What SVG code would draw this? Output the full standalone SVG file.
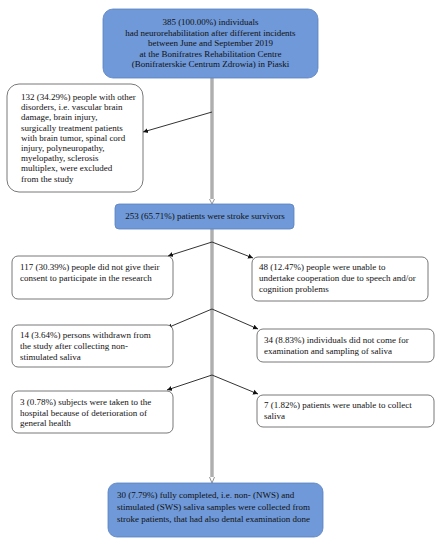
<svg xmlns="http://www.w3.org/2000/svg" width="446" height="550" viewBox="0 0 446 550">
<style>
text{font-family:"Liberation Serif","Times New Roman",serif;font-size:9px;fill:#111}
.blue{fill:#6f99d8;stroke:#5a82c0;stroke-width:0.8}
.white{fill:#fff;stroke:#555;stroke-width:0.8}
.arr{stroke:#333;stroke-width:1;fill:none;marker-end:url(#ah)}
.main{stroke:#8a8a8a;stroke-width:3;fill:none}
.mainin{stroke:#e6e6e6;stroke-width:0.8;fill:none}
</style>
<defs>
<marker id="ah" markerWidth="6" markerHeight="6" refX="5" refY="3" orient="auto" markerUnits="userSpaceOnUse">
<path d="M0,0.5 L5,3 L0,5.5 Z" fill="#111"/>
</marker>
<marker id="oh" markerWidth="6" markerHeight="6" refX="3" refY="5" orient="0" markerUnits="userSpaceOnUse">
<path d="M0.5,0 L3,5 L5.5,0" fill="#fff" stroke="#777" stroke-width="0.8"/>
</marker>
</defs>
<g id="connectors">
<line class="main" x1="212" y1="78" x2="212" y2="200"/>
<line class="mainin" x1="212" y1="78" x2="212" y2="200"/>
<path d="M209.5,199 L212,204 L214.5,199" fill="#fff" stroke="#777" stroke-width="0.8"/>
<line class="main" x1="212" y1="229" x2="212" y2="478"/>
<line class="mainin" x1="212" y1="229" x2="212" y2="478"/>
<path d="M209.5,477 L212,483 L214.5,477" fill="#fff" stroke="#777" stroke-width="0.8"/>
<line class="arr" x1="212" y1="112" x2="143" y2="132"/>
<line class="arr" x1="212" y1="242" x2="168" y2="256"/>
<line class="arr" x1="212" y1="242" x2="253" y2="258"/>
<line class="arr" x1="212" y1="309" x2="167" y2="328"/>
<line class="arr" x1="212" y1="309" x2="258" y2="329"/>
<line class="arr" x1="212" y1="375" x2="167" y2="390"/>
<line class="arr" x1="212" y1="375" x2="258" y2="394"/>
</g>
<g id="n_top">
<rect class="blue" x="103" y="9" width="215" height="69" rx="10"/>
<text x="210.5" y="25" text-anchor="middle">385 (100.00%) individuals</text>
<text x="210.5" y="35.5" text-anchor="middle">had neurorehabilitation after different incidents</text>
<text x="210.5" y="46" text-anchor="middle">between June and September 2019</text>
<text x="210.5" y="56.5" text-anchor="middle">at the Bonifratres Rehabilitation Centre</text>
<text x="210.5" y="67" text-anchor="middle">(Bonifraterskie Centrum Zdrowia) in Piaski</text>
</g>
<g id="n_excluded">
<rect class="white" x="7" y="84" width="136" height="108" rx="12"/>
<text x="21" y="100">132 (34.29%) people with other</text>
<text x="21" y="110.2">disorders, i.e. vascular brain</text>
<text x="21" y="120.4">damage, brain injury,</text>
<text x="21" y="130.6">surgically treatment patients</text>
<text x="21" y="140.8">with brain tumor, spinal cord</text>
<text x="21" y="151">injury, polyneuropathy,</text>
<text x="21" y="161.2">myelopathy, sclerosis</text>
<text x="21" y="171.4">multiplex, were excluded</text>
<text x="21" y="181.6">from the study</text>
</g>
<g id="n_stroke">
<rect class="blue" x="115" y="204" width="179" height="25" rx="4"/>
<text x="205" y="219" text-anchor="middle">253 (65.71%) patients were stroke survivors</text>
</g>
<g id="n_consent">
<rect class="white" x="12" y="256" width="161" height="43" rx="6"/>
<text x="20" y="270">117 (30.39%) people did not give their</text>
<text x="20" y="281">consent to participate in the research</text>
</g>
<g id="n_coop">
<rect class="white" x="252" y="257" width="176" height="44" rx="6"/>
<text x="259" y="270">48 (12.47%) people were unable to</text>
<text x="259" y="281">undertake cooperation due to speech and/or</text>
<text x="259" y="292">cognition problems</text>
</g>
<g id="n_withdrawn">
<rect class="white" x="12" y="325" width="161" height="42" rx="6"/>
<text x="20" y="338">14 (3.64%) persons withdrawn from</text>
<text x="20" y="349">the study after collecting non-</text>
<text x="20" y="360">stimulated saliva</text>
</g>
<g id="n_nocome">
<rect class="white" x="257" y="329" width="177" height="33" rx="6"/>
<text x="264" y="343">34 (8.83%) individuals did not come for</text>
<text x="264" y="354">examination and sampling of saliva</text>
</g>
<g id="n_hospital">
<rect class="white" x="12" y="391" width="161" height="42" rx="6"/>
<text x="20" y="405">3 (0.78%) subjects were taken to the</text>
<text x="20" y="416">hospital because of deterioration of</text>
<text x="20" y="426">general health</text>
</g>
<g id="n_unable">
<rect class="white" x="257" y="395" width="177" height="32" rx="6"/>
<text x="264" y="408">7 (1.82%) patients were unable to collect</text>
<text x="264" y="419">saliva</text>
</g>
<g id="n_final">
<rect class="blue" x="108" y="483" width="215" height="54" rx="9"/>
<text x="117" y="498">30 (7.79%) fully completed, i.e. non- (NWS) and</text>
<text x="117" y="510">stimulated (SWS) saliva samples were collected from</text>
<text x="117" y="522">stroke patients, that had also dental examination done</text>
</g>
</svg>
